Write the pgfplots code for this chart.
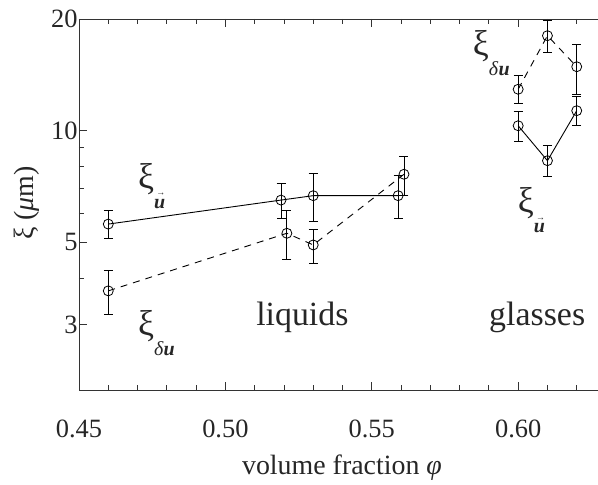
\documentclass[border=0pt]{standalone}
\usepackage{fontspec}
\setmainfont{Liberation Serif}
\usepackage{pgfplots}
\pgfplotsset{compat=1.18}
\newcommand{\xilab}[1]{{\fontsize{36}{38}\selectfont ξ\raisebox{-20bp}{\fontsize{20}{22}\selectfont #1}}}
\newcommand{\subdu}{\textit{δ}\textbf{\textit{u}}}
\newcommand{\subvu}{\rlap{\raisebox{0.62em}{\hspace{0.12em}\fontsize{9}{9}\selectfont →}}\textbf{\textit{u}}}
\pgfplotstableread{
x y ep em
0.46 5.60 0.50 0.49
0.519 6.50 0.71 0.69
0.53 6.68 1.01 0.97
0.559 6.68 0.91 0.87
}\solidliq
\pgfplotstableread{
x y ep em
0.60 10.31 0.99 0.97
0.61 8.30 0.81 0.78
0.62 11.32 1.03 1.01
}\solidgl
\pgfplotstableread{
x y ep em
0.46 3.70 0.49 0.50
0.521 5.29 0.80 0.78
0.53 4.92 0.48 0.53
0.561 7.63 0.88 0.92
}\dashliq
\pgfplotstableread{
x y ep em
0.60 12.93 1.12 1.07
0.61 18.03 1.77 1.76
0.62 14.87 2.22 2.34
}\dashgl
\begin{document}
\begin{tikzpicture}[x=1bp,y=1bp]
\clip (-79,-95) rectangle (519,390);
\begin{axis}[
  at={(0,0)}, anchor=south west,
  scale only axis, width=527bp, height=371bp,
  xmin=0.45, xmax=0.63, ymode=log, ymin=2, ymax=20,
  xtick={0.45,0.50,0.55,0.60}, xticklabels={0.45,0.50,0.55,0.60},
  minor xtick={0.46,0.47,0.48,0.49,0.51,0.52,0.53,0.54,0.56,0.57,0.58,0.59,0.61,0.62},
  ytick={3,5,10,20}, yticklabels={3,5,10,20},
  minor ytick={4,6,7,8,9},
  tick align=inside,
  major tick length=8bp, minor tick length=5bp,
  axis line style={black!80, line width=0.9bp},
  every tick/.style={black!80, line width=0.8bp},
  tick label style={font=\fontsize{26.5}{30}\selectfont, text=black!85},
  /pgf/number format/assume math mode=true,
  xticklabel style={yshift=-26bp},
  yticklabel style={xshift=2bp},
  xlabel={volume fraction \textit{φ}},
  ylabel={ξ (\textit{μ}m)},
  every axis x label/.style={at={(rel axis cs:0.499,0)}, anchor=base, yshift=-85bp,
    font=\fontsize{28}{32}\selectfont, text=black!85},
  every axis y label/.style={at={(rel axis cs:0,0.504)}, anchor=center, rotate=90, yshift=52bp,
    font=\fontsize{28}{32}\selectfont, text=black!85},
  clip=false,
]
\pgfplotsset{
  mystyle/.style={black, line width=0.9bp, mark=o, mark size=5bp,
    mark options={solid, line width=0.8bp},
    error bars/.cd, y dir=both, y explicit,
    error bar style={solid, line width=0.9bp},
    error mark options={rotate=90, mark size=4.5bp, line width=0.9bp, solid},
    /pgfplots/.cd},
}
\addplot[mystyle] table[x=x, y=y, y error plus=ep, y error minus=em] {\solidliq};
\addplot[mystyle] table[x=x, y=y, y error plus=ep, y error minus=em] {\solidgl};
\addplot[mystyle, dash pattern=on 7bp off 6bp] table[x=x, y=y, y error plus=ep, y error minus=em] {\dashliq};
\addplot[mystyle, dash pattern=on 7bp off 6bp] table[x=x, y=y, y error plus=ep, y error minus=em] {\dashgl};
\node[anchor=base west, inner sep=0pt, text=black!85] at (axis cs:0.4701,7.00) {\xilab{\subvu}};
\node[anchor=base west, inner sep=0pt, text=black!85] at (axis cs:0.4701,2.80) {\xilab{\subdu}};
\node[anchor=base west, inner sep=0pt, text=black!85] at (axis cs:0.5845,15.99) {\xilab{\subdu}};
\node[anchor=base west, inner sep=0pt, text=black!85] at (axis cs:0.5998,6.00) {\xilab{\subvu}};
\node[anchor=base, inner sep=0pt, text=black!85, font=\fontsize{34}{36}\selectfont] at (axis cs:0.5263,2.99) {liquids};
\node[anchor=base, inner sep=0pt, text=black!85, font=\fontsize{34}{36}\selectfont] at (axis cs:0.6065,2.99) {glasses};
\end{axis}
\end{tikzpicture}
\end{document}
